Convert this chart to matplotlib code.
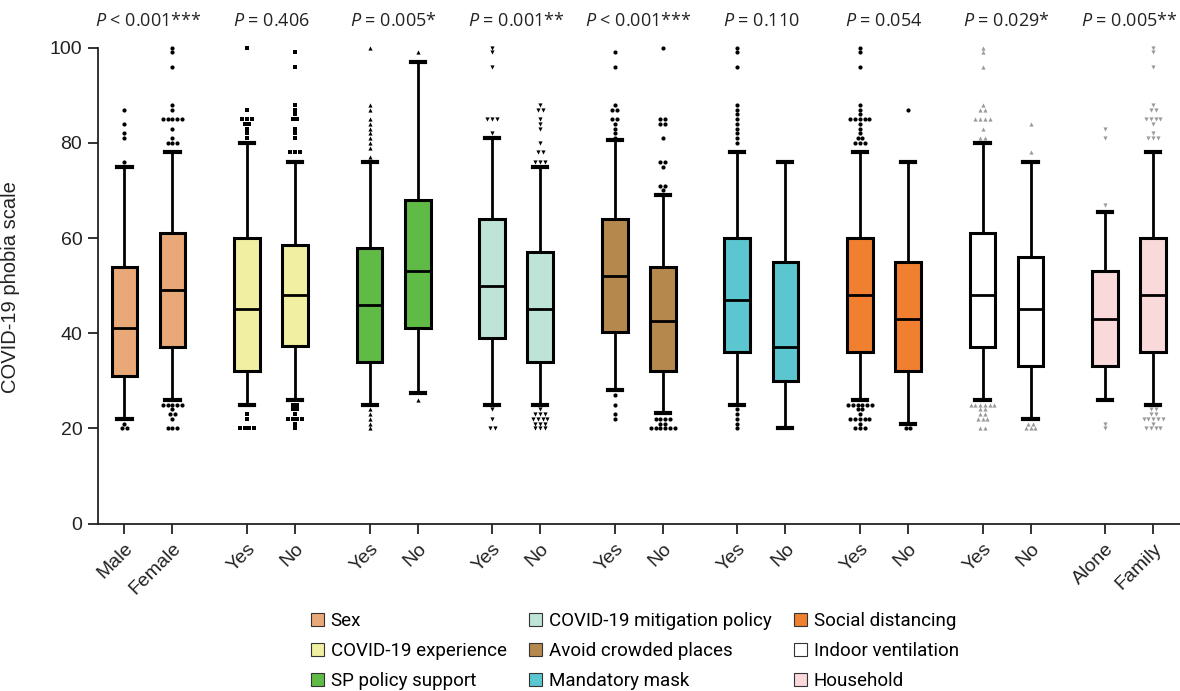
import matplotlib
matplotlib.use("Agg")
import matplotlib.pyplot as plt
from matplotlib.patches import Patch
from collections import Counter

plt.rcParams['font.family'] = ['Liberation Sans', 'DejaVu Sans']
plt.rcParams['mathtext.fontset'] = 'custom'
plt.rcParams['mathtext.rm'] = 'Open Sans'
plt.rcParams['mathtext.it'] = 'Open Sans:italic'

# ---------------- data ----------------
groups = ["Sex", "COVID-19 experience", "SP policy support",
          "COVID-19 mitigation policy", "Avoid crowded places", "Mandatory mask",
          "Social distancing", "Indoor ventilation", "Household"]
group_colors = ["#E9A877", "#F0EFA2", "#5FBA46", "#BEE4D7", "#B5884E",
                "#5CC6D0", "#F08030", "#FFFFFF", "#F9D9D9"]
p_values = ["< 0.001***", "= 0.406", "= 0.005*", "= 0.001**", "< 0.001***",
            "= 0.110", "= 0.054", "= 0.029*", "= 0.005**"]
tick_labels = ["Male", "Female", "Yes", "No", "Yes", "No", "Yes", "No", "Yes", "No",
               "Yes", "No", "Yes", "No", "Yes", "No", "Alone", "Family"]

# lower whisker, Q1, median, Q3, upper whisker (one entry per box)
whisker_low = [22, 26, 25, 26, 25, 27.5, 25, 25, 28, 23.3, 25, 20, 26, 21, 26, 22, 26, 25]
q1 = [31, 37, 32, 37.3, 34, 41, 39, 34, 40.3, 32, 36, 30, 36, 32, 37, 33, 33, 36]
median = [41, 49, 45, 48, 46, 53, 50, 45, 52, 42.5, 47, 37, 48, 43, 48, 45, 43, 48]
q3 = [54, 61, 60, 58.5, 58, 68, 64, 57, 64, 54, 60, 55, 60, 55, 61, 56, 53, 60]
whisker_high = [75, 78, 80, 76, 76, 97, 81, 75, 80.5, 69, 78, 76, 78, 76, 80, 76, 65.5, 78]

outliers = [
    [87, 84, 82, 81, 76, 21, 20, 20],
    [100, 99, 96, 88, 87, 85, 85, 85, 85, 85, 83, 81, 80, 80, 80,
     25, 25, 25, 25, 25, 24, 23, 23, 22, 20, 20, 20],
    [100, 87, 85, 85, 85, 84, 84, 83, 82, 81, 23, 22, 20, 20, 20, 20],
    [99, 96, 88, 87, 86, 85, 85, 83, 82, 81, 78, 78, 78,
     25, 25, 24, 24, 23, 22, 22, 22, 22, 21, 20],
    [100, 88, 87, 85, 84, 83, 82, 81, 80, 79, 77, 24, 23, 22, 21, 20],
    [99, 26],
    [100, 99, 96, 85, 85, 85, 82, 24, 22, 20, 20],
    [88, 87, 87, 85, 84, 83, 80, 78, 78, 76, 76, 76,
     24, 23, 23, 23, 22, 22, 22, 22, 21, 21, 21, 20, 20, 20],
    [99, 96, 88, 87, 87, 85, 85, 84, 83, 82, 81, 27, 25, 23, 22],
    [100, 85, 85, 84, 84, 81, 76, 76, 75, 71, 71, 70,
     22, 22, 22, 22, 21, 21, 20, 20, 20, 20, 20, 20],
    [100, 99, 96, 88, 87, 86, 85, 84, 83, 82, 81, 80, 24, 23, 22, 21, 20],
    [],
    [100, 99, 96, 88, 87, 86, 85, 85, 85, 85, 85, 84, 83, 82, 81, 81, 80, 80, 80,
     25, 25, 25, 25, 25, 25, 24, 24, 23, 22, 22, 22, 22, 22, 21, 20, 20, 20],
    [87, 20, 20],
    [100, 99, 96, 88, 87, 87, 85, 85, 85, 85, 83, 81, 81,
     25, 25, 25, 25, 25, 25, 24, 24, 23, 23, 22, 22, 22, 20, 20],
    [84, 78, 21, 21, 20, 20, 20],
    [83, 81, 67, 21, 20],
    [100, 99, 96, 88, 87, 87, 85, 85, 85, 85, 84, 82, 81, 81, 81,
     24, 24, 23, 23, 22, 22, 22, 22, 22, 21, 20, 20, 20, 20],
]

# outlier marker style per group
flier_markers = ['o', 's', '^', 'v', 'o', 'o', 'o', '^', 'v']
flier_colors = ['black', 'black', 'black', 'black', 'black', 'black', 'black', '#9a9a9a', '#9a9a9a']

# ---------------- figure ----------------
W, H = 1180, 691
fig = plt.figure(figsize=(W / 100, H / 100), dpi=100)
ax = fig.add_axes([97.6 / W, 1 - 523.5 / H, (W - 97.6) / W, (523.5 - 47.7) / H])

half_gap = 0.196
positions = []
for g in range(len(groups)):
    positions += [g - half_gap, g + half_gap]

stats = []
for i in range(len(tick_labels)):
    stats.append(dict(whislo=whisker_low[i], q1=q1[i], med=median[i], q3=q3[i],
                      whishi=whisker_high[i], fliers=[]))

box_w = 0.21
bp = ax.bxp(stats, positions=positions, widths=box_w, patch_artist=True,
            showfliers=False, capwidths=box_w * 0.55,
            boxprops=dict(linewidth=2.2, edgecolor='black'),
            whiskerprops=dict(linewidth=2.0, color='black'),
            capprops=dict(linewidth=3.0, color='black'),
            medianprops=dict(linewidth=2.0, color='black'))
for i, patch in enumerate(bp['boxes']):
    patch.set_facecolor(group_colors[i // 2])

# outliers with horizontal spreading of repeated values
dx = 0.039
for i, vals in enumerate(outliers):
    g = i // 2
    cnt = Counter(vals)
    xs, ys = [], []
    for v, n in cnt.items():
        for k in range(n):
            xs.append(positions[i] + (k - (n - 1) / 2) * dx)
            ys.append(v)
    ax.plot(xs, ys, linestyle='none', marker=flier_markers[g], markersize=3.0,
            color=flier_colors[g], markeredgewidth=0, clip_on=False)

# p-values
for g, p in enumerate(p_values):
    ax.text(g, 105.6, r"$\it{P}$" + " " + p, ha='center', va='center',
            fontsize=13, fontfamily='Open Sans', color='#222222', clip_on=False)

ax.set_xlim(-0.415, 8.415)
ax.set_ylim(0, 100)
ax.set_yticks([0, 20, 40, 60, 80, 100])
ax.set_xticks(positions)
ax.set_xticklabels(tick_labels, rotation=45, ha='right', rotation_mode='anchor')
ax.tick_params(axis='both', labelsize=14, length=7, width=1.3, direction='out',
               colors='#222222', labelcolor='#222222')
ax.tick_params(axis='x', pad=5)
ax.tick_params(axis='y', pad=4)
for s in ['top', 'right']:
    ax.spines[s].set_visible(False)
for s in ['left', 'bottom']:
    ax.spines[s].set_linewidth(1.3)
    ax.spines[s].set_color('#222222')

ax.set_ylabel("COVID-19 phobia scale", fontsize=14.5, color='#222222')
ax.yaxis.set_label_coords((20 - 97.6) / (W - 97.6), 0.496)

handles = [Patch(facecolor=c, edgecolor='#333333', linewidth=0.8) for c in group_colors]
fig.legend(handles, groups, loc='upper left', bbox_to_anchor=(311 / W, 1 - 612 / H),
           ncol=3, frameon=False, borderpad=0, borderaxespad=0,
           handlelength=0.7, handleheight=0.7, handletextpad=0.35,
           labelspacing=0.64, columnspacing=1.2,
           prop=dict(family='Roboto', size=13.5))

fig.savefig("out.png", dpi=100)
